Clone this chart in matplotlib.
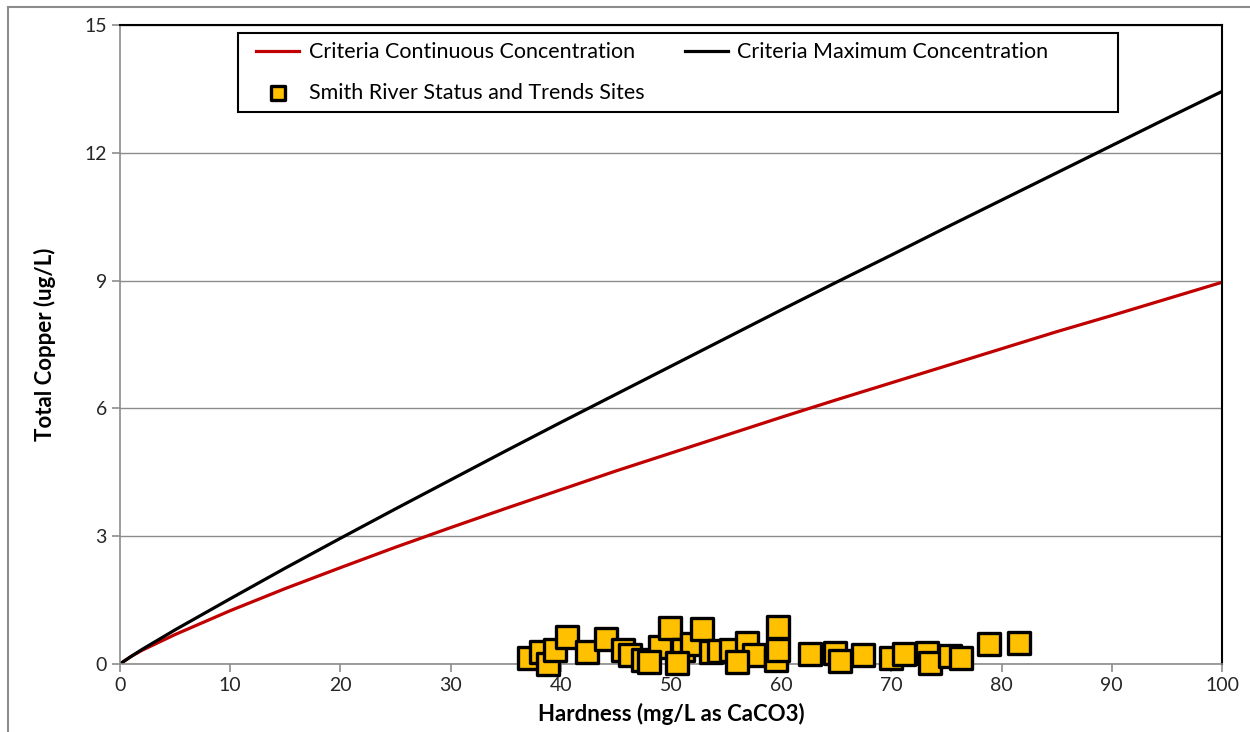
import matplotlib.pyplot as plt
from matplotlib.lines import Line2D
from matplotlib.patches import Rectangle

plt.rcParams['font.family'] = ['Lato', 'DejaVu Sans']

# Criteria lines
hardness = [0, 1, 2, 5, 10, 15, 20, 25, 30, 35, 40, 45, 50, 55, 60, 65, 70, 75, 80, 85, 90, 95, 100]
ccc = [0, 0.175, 0.32, 0.69, 1.25, 1.77, 2.26, 2.74, 3.20, 3.65, 4.09, 4.53, 4.95, 5.37, 5.79,
       6.20, 6.60, 7.00, 7.40, 7.80, 8.18, 8.57, 8.96]
cmc = [0, 0.175, 0.34, 0.80, 1.53, 2.25, 2.95, 3.64, 4.32, 5.00, 5.67, 6.33, 6.99, 7.65, 8.31,
       8.96, 9.60, 10.25, 10.89, 11.53, 12.17, 12.81, 13.44]

# Smith River Status and Trends sites
site_hardness = [37.1, 38.2, 38.8, 39.5, 40.6, 42.4, 44.1, 45.6, 46.3, 47.5, 49.0, 49.9, 51.1,
                 51.9, 52.8, 53.6, 54.4, 55.4, 56.9, 57.5, 59.5, 59.7, 59.7, 62.6, 64.9, 65.3,
                 67.4, 70.0, 71.1, 73.2, 73.5, 75.3, 76.3, 78.9, 81.6, 48.0, 50.5, 56.0]
site_copper = [0.14, 0.28, 0.0, 0.33, 0.64, 0.28, 0.59, 0.33, 0.21, 0.09, 0.40, 0.85, 0.33,
               0.47, 0.82, 0.28, 0.30, 0.33, 0.49, 0.21, 0.09, 0.87, 0.33, 0.23, 0.26, 0.07,
               0.21, 0.14, 0.23, 0.26, 0.02, 0.19, 0.14, 0.47, 0.49, 0.05, 0.02, 0.05]

fig = plt.figure(figsize=(12.5, 7.32), dpi=100)
ax = fig.add_axes([0.096, 0.093, 0.8816, 0.8728])

ax.plot(hardness, ccc, color='#C00000', lw=2.3, label='Criteria Continuous Concentration')
ax.scatter(site_hardness, site_copper, marker='s', s=250, color='#FFC000', edgecolor='black',
           linewidth=2.4, zorder=5, clip_on=False, label='Smith River Status and Trends Sites')
ax.plot(hardness, cmc, color='black', lw=2.3, label='Criteria Maximum Concentration')

ax.set_xlim(0, 100)
ax.set_ylim(0, 15)
ax.set_xticks(range(0, 101, 10))
ax.set_yticks(range(0, 16, 3))
ax.grid(axis='y', color='#8C8C8C', lw=1)
ax.set_axisbelow(True)

for s in ['left', 'bottom']:
    ax.spines[s].set_color('#8C8C8C')
    ax.spines[s].set_linewidth(1.2)
for s in ['top', 'right']:
    ax.spines[s].set_color('black')
    ax.spines[s].set_linewidth(1.5)
ax.tick_params(colors='#8C8C8C', labelcolor='#262626', labelsize=14, length=6, width=1.2)

ax.set_xlabel('Hardness (mg/L as CaCO3)', fontsize=16, fontweight='bold', labelpad=6)
ax.set_ylabel('Total Copper (ug/L)', fontsize=16, fontweight='bold', labelpad=20)

# legend box drawn separately (Excel leaves extra room on the right)
ax.add_patch(Rectangle((0.107, 0.8638), 0.7986, 0.1237, transform=ax.transAxes,
                       facecolor='white', edgecolor='black', lw=1.5, zorder=6))
leg = ax.legend(ncol=2, loc='upper left', bbox_to_anchor=(0.114, 0.99), fontsize=15.5,
                frameon=False, handlelength=2.0, handletextpad=0.45, columnspacing=1.85,
                labelspacing=0.95, borderpad=0, markerscale=0.6)
leg.set_zorder(7)

# chart area border
fig.add_artist(Line2D([0.0064, 1.0], [0.9904, 0.9904], color='#8C8C8C', lw=1.5))
fig.add_artist(Line2D([0.0064, 0.0064], [0.0, 0.9904], color='#8C8C8C', lw=1.5))

fig.savefig('out.png', dpi=100)
